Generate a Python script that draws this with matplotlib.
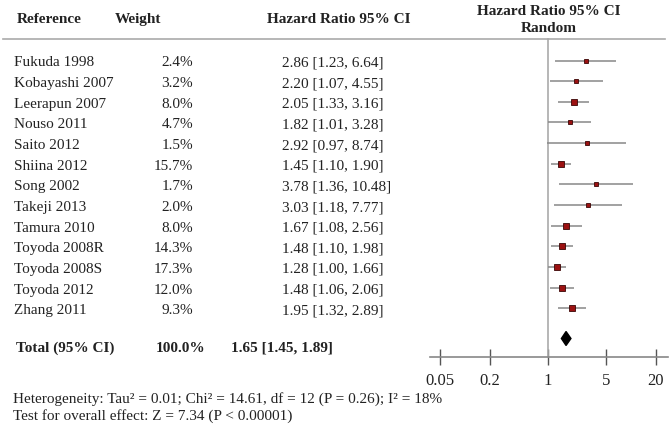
import numpy as np
import matplotlib.pyplot as plt
from matplotlib.ticker import NullLocator

studies = ["Fukuda 1998", "Kobayashi 2007", "Leerapun 2007", "Nouso 2011", "Saito 2012",
           "Shiina 2012", "Song 2002", "Takeji 2013", "Tamura 2010", "Toyoda 2008R",
           "Toyoda 2008S", "Toyoda 2012", "Zhang 2011"]
weights = [2.4, 3.2, 8.0, 4.7, 1.5, 15.7, 1.7, 2.0, 8.0, 14.3, 17.3, 12.0, 9.3]
hr = [2.86, 2.20, 2.05, 1.82, 2.92, 1.45, 3.78, 3.03, 1.67, 1.48, 1.28, 1.48, 1.95]
lo = [1.23, 1.07, 1.33, 1.01, 0.97, 1.10, 1.36, 1.18, 1.08, 1.10, 1.00, 1.06, 1.32]
hi = [6.64, 4.55, 3.16, 3.28, 8.74, 1.90, 10.48, 7.77, 2.56, 1.98, 1.66, 2.06, 2.89]
total_hr, total_lo, total_hi = 1.65, 1.45, 1.89
xticks = [0.05, 0.2, 1, 5, 20]
xtick_labels = ["0.05", "0.2", "1", "5", "20"]

plt.rcParams['font.family'] = ['Liberation Serif', 'DejaVu Serif']
fs = 11
tc = '#222222'

W, H = 672, 431
fig = plt.figure(figsize=(W / 100, H / 100), dpi=100)

# overlay axes in pixel units for table text
bg = fig.add_axes([0, 0, 1, 1])
bg.set_xlim(0, W)
bg.set_ylim(H, 0)
bg.axis('off')

row0, step = 61.5, 20.65
rows = [row0 + i * step for i in range(len(studies))]
total_y = 347
va = 'center_baseline'

# headers
bg.text(17, 18, "Reference", fontsize=fs, fontweight='bold', color=tc, va=va, ha='left')
bg.text(138, 18, "Weight", fontsize=fs, fontweight='bold', color=tc, va=va, ha='center')
bg.text(339, 18, "Hazard Ratio 95% CI", fontsize=fs, fontweight='bold', color=tc, va=va, ha='center')
bg.text(549, 10, "Hazard Ratio 95% CI", fontsize=fs, fontweight='bold', color=tc, va=va, ha='center')
bg.text(549, 27, "Random", fontsize=fs, fontweight='bold', color=tc, va=va, ha='center')
bg.plot([3, 665], [40, 40], color='#aaaaaa', lw=1.2)

for y, s, w, h, l, u in zip(rows, studies, weights, hr, lo, hi):
    bg.text(14, y, s, fontsize=fs, color=tc, va=va, ha='left')
    bg.text(193, y, f"{w:.1f}%", fontsize=fs, color=tc, va=va, ha='right')
    bg.text(282, y, f"{h:.2f} [{l:.2f}, {u:.2f}]", fontsize=fs, color=tc, va=va, ha='left')

bg.text(16, total_y, "Total (95% CI)", fontsize=fs, fontweight='bold', color=tc, va=va, ha='left')
bg.text(205, total_y, "100.0%", fontsize=fs, fontweight='bold', color=tc, va=va, ha='right')
bg.text(231, total_y, f"{total_hr:.2f} [{total_lo:.2f}, {total_hi:.2f}]", fontsize=fs,
        fontweight='bold', color=tc, va=va, ha='left')

bg.text(13, 397, "Heterogeneity: Tau\u00b2 = 0.01; Chi\u00b2 = 14.61, df = 12 (P = 0.26); I\u00b2 = 18%",
        fontsize=fs, color=tc, va=va, ha='left')
bg.text(13, 414, "Test for overall effect: Z = 7.34 (P < 0.00001)",
        fontsize=fs, color=tc, va=va, ha='left')

# forest axes
px_per_dec = 83.0
x1 = 548.0
left_px, right_px = 430, 668
top_px, bot_px = 40, 358
ax = fig.add_axes([left_px / W, (H - bot_px) / H, (right_px - left_px) / W, (bot_px - top_px) / H])
ax.patch.set_alpha(0)
ax.set_xscale('log')
ax.set_xlim(10 ** ((left_px - x1) / px_per_dec), 10 ** ((right_px - x1) / px_per_dec))
ax.set_ylim(bot_px, top_px)
for side in ['top', 'right', 'left']:
    ax.spines[side].set_visible(False)
ax.spines['bottom'].set_color('#888888')
ax.spines['bottom'].set_linewidth(1.2)
ax.set_yticks([])
ax.set_xticks(xticks)
ax.set_xticklabels(xtick_labels, fontsize=fs + 1, color=tc)
ax.xaxis.set_minor_locator(NullLocator())
ax.tick_params(axis='x', direction='inout', length=11, width=1, color='#555555', pad=5)

ax.plot([1, 1], [top_px, bot_px], color='#aaaaaa', lw=1.2, clip_on=False)

for y, w, h, l, u in zip(rows, weights, hr, lo, hi):
    ax.plot([l, u], [y, y], color='#888888', lw=1.1, solid_capstyle='butt')
    ax.plot([h], [y], marker='s', ms=2.3 + 0.55 * np.sqrt(w), color='#9b1111',
            markeredgecolor='#3a0505', markeredgewidth=0.6)

dy = 339.5
ax.fill([total_lo, total_hr, total_hi, total_hr], [dy, dy - 7, dy, dy + 7],
        facecolor='black', edgecolor='black', lw=1)

fig.savefig("out.png", dpi=100)
